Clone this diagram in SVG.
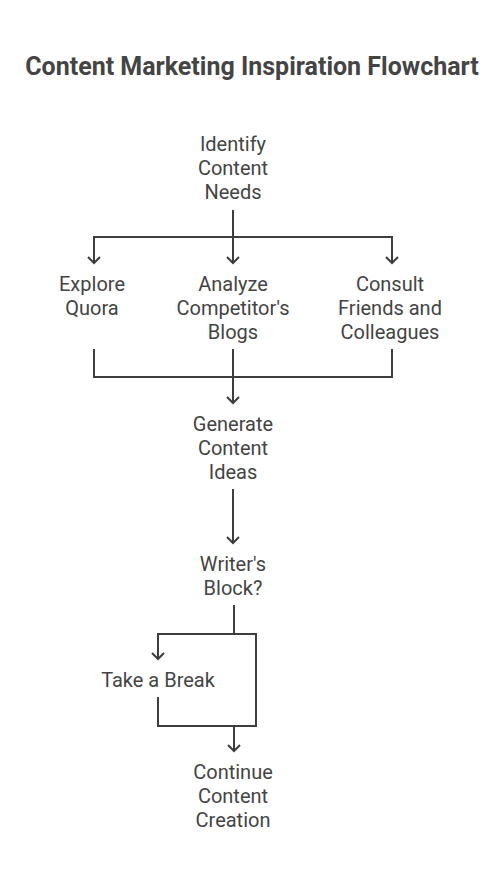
<svg xmlns="http://www.w3.org/2000/svg" width="504" height="880" viewBox="0 0 504 880">
<style>
.t{font-family:Roboto,"Liberation Sans",sans-serif;font-size:20px;fill:#444444;text-anchor:middle}
.title{font-family:Roboto,"Liberation Sans",sans-serif;font-size:25px;font-weight:bold;fill:#444444;text-anchor:middle}
.c{fill:none;stroke:#3d3d3d;stroke-width:2}
</style>
<defs>
<marker id="a" markerUnits="userSpaceOnUse" viewBox="0 0 14 14" refX="7" refY="7" markerWidth="14" markerHeight="14" orient="auto">
<path d="M1,1 L7,7 L1,13" fill="none" stroke="#3d3d3d" stroke-width="2"/>
</marker>
</defs>
<rect width="504" height="880" fill="#ffffff"/>
<text class="title" x="252" y="75">Content Marketing Inspiration Flowchart</text>
<g id="connectors">
<path class="c" d="M233,210 V263" marker-end="url(#a)"/>
<path class="c" d="M233,237 H94 V263" marker-end="url(#a)"/>
<path class="c" d="M233,237 H392 V263" marker-end="url(#a)"/>
<path class="c" d="M94,349 V377 H392 V349"/>
<path class="c" d="M233,349 V403" marker-end="url(#a)"/>
<path class="c" d="M233,489 V543" marker-end="url(#a)"/>
<path class="c" d="M234,605 V634 H158 V659" marker-end="url(#a)"/>
<path class="c" d="M234,634 H256 V726 H158 V697"/>
<path class="c" d="M234,726 V751" marker-end="url(#a)"/>
</g>
<g id="identify"><text class="t" x="233" y="151">Identify</text><text class="t" x="233" y="175">Content</text><text class="t" x="233" y="199">Needs</text></g>
<g id="explore"><text class="t" x="92" y="291">Explore</text><text class="t" x="92" y="315">Quora</text></g>
<g id="analyze"><text class="t" x="233" y="291">Analyze</text><text class="t" x="233" y="315">Competitor's</text><text class="t" x="233" y="339">Blogs</text></g>
<g id="consult"><text class="t" x="390" y="291">Consult</text><text class="t" x="390" y="315">Friends and</text><text class="t" x="390" y="339">Colleagues</text></g>
<g id="generate"><text class="t" x="233" y="431">Generate</text><text class="t" x="233" y="455">Content</text><text class="t" x="233" y="479">Ideas</text></g>
<g id="writers-block"><text class="t" x="233" y="571">Writer's</text><text class="t" x="233" y="595">Block?</text></g>
<g id="take-break"><text class="t" x="158" y="687">Take a Break</text></g>
<g id="continue"><text class="t" x="233" y="779">Continue</text><text class="t" x="233" y="803">Content</text><text class="t" x="233" y="827">Creation</text></g>
</svg>
